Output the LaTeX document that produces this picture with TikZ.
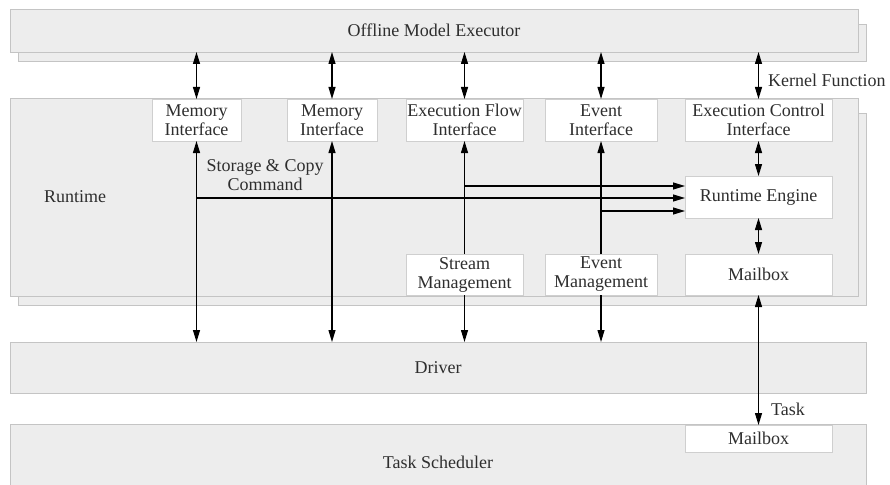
\documentclass[tikz,border=0pt]{standalone}
\usepackage{fontspec}
\setmainfont{Liberation Serif}
\usepackage{tikz}
\usetikzlibrary{arrows.meta,positioning,calc}

\definecolor{layerfill}{HTML}{EDEDED}
\definecolor{layerline}{HTML}{C4C4C4}
\definecolor{boxline}{HTML}{CFCFCF}
\definecolor{txt}{HTML}{2E2E2E}

\begin{document}
\begin{tikzpicture}[
  x=1pt, y=1pt,
  >={Triangle[length=12pt,width=7pt]},
  font=\fontsize{18}{19}\selectfont,
  shade/.style={draw=layerline, fill=layerfill, line width=0.9pt},
  layer/.style={shade, inner sep=0pt, outer sep=0pt, text=txt},
  box/.style={
    draw=boxline, fill=white, line width=0.9pt, inner sep=0pt,
    outer sep=0pt, minimum height=42pt, align=center, text=txt
  },
  arr/.style={line width=1.1pt, black},
  txtl/.style={inner sep=0pt, text=txt, align=center},
]
\useasboundingbox (0,0) rectangle (890,-484);

% layers (with their shadow plates)
\draw[shade] (18,-24) rectangle (866,-61);
\node[layer, minimum width=848pt, minimum height=43pt] (omx) at (434,-30.5) {Offline Model Executor};
\draw[shade] (18,-113) rectangle (866,-305);
\node[layer, minimum width=848pt, minimum height=198pt] (rt) at (434,-197) {};
\node[txtl] (rtlabel) at (75,-197) {Runtime};
\node[layer, minimum width=856pt, minimum height=51pt] (drv) at (438,-367.5) {Driver};
\node[layer, minimum width=856pt, minimum height=76pt] (ts) at (438,-462) {Task Scheduler};

% interfaces
\node[box, minimum width=89pt]  (mem1) at (196.5,-120) {Memory\\Interface};
\node[box, minimum width=90pt]  (mem2) at (332,-120)   {Memory\\Interface};
\node[box, minimum width=117pt] (efi)  at (464.5,-120) {Execution Flow\\Interface};
\node[box, minimum width=112pt] (evi)  at (601,-120)   {Event\\Interface};
\node[box, minimum width=147pt] (eci)  at (758.5,-120) {Execution Control\\Interface};

% engine, management, mailboxes
\node[box, minimum width=147pt, below=35pt of eci] (rte) {Runtime Engine};
\node[box, minimum width=147pt, minimum height=41pt, below=36pt of rte] (mbx) {Mailbox};
\node[box, minimum width=117pt, minimum height=41pt, below=113pt of efi] (stm) {Stream\\Management};
\node[box, minimum width=112pt, minimum height=41pt, below=113pt of evi] (evm) {Event\\Management};
\node[box, minimum width=147pt, minimum height=27pt] (tmbx) at (758.5,-438.5) {Mailbox};

% executor <-> interfaces
\foreach \n in {mem1,mem2,efi,evi,eci}
  \draw[arr,<->] (\n.north |- omx.south) -- (\n.north);
% memory <-> driver
\foreach \n in {mem1,mem2}
  \draw[arr,<->] (\n.south) -- (\n.south |- drv.north);
% management -> interface, management -> driver
\foreach \m/\n in {stm/efi,evm/evi}{
  \draw[arr,->] (\m.north) -- (\n.south);
  \draw[arr,->] (\m.south) -- (\m.south |- drv.north);
}
\draw[arr,<->] (eci.south) -- (rte.north);
\draw[arr,<->] (rte.south) -- (mbx.north);
\draw[arr,<->] (mbx.south) -- (tmbx.north);

% commands into the engine
\coordinate (in1) at ($(rte.west)+(0,11)$);
\coordinate (in2) at ($(rte.west)+(0,-1)$);
\coordinate (in3) at ($(rte.west)+(0,-14)$);
\draw[arr,->] (efi.south |- in1) -- (in1);
\draw[arr,->] (mem1.south |- in2) -- (in2);
\draw[arr,->] (evi.south |- in3) -- (in3);

% labels
\node[txtl] (copylabel) at (265,-175) {Storage \& Copy\\Command};
\node[txtl, anchor=west] (kernlabel) at (768,-80) {Kernel Function};
\node[txtl, anchor=west] (tasklabel) at (771,-409) {Task};
\end{tikzpicture}
\end{document}
